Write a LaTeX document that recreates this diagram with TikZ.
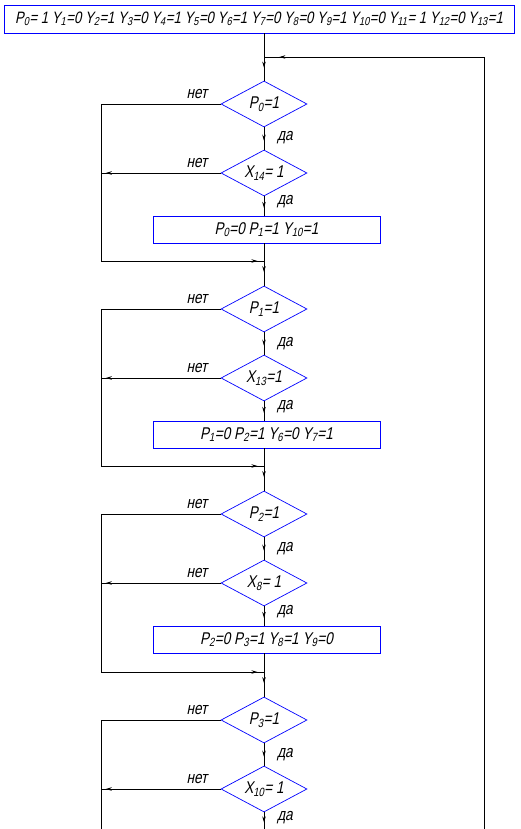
\documentclass[tikz,border=0pt]{standalone}
\usepackage{fontspec}
\newfontfamily\gost[FakeStretch=0.8,FakeSlant=0.2]{Liberation Sans}
\usetikzlibrary{shapes.geometric,arrows.meta,decorations.markings}
\newcommand{\ixs}[1]{\textsubscript{#1}}
\begin{document}
\begin{tikzpicture}[x=1pt,y=-1pt, font=\gost\fontsize{17}{19}\selectfont,
  blk/.style={draw=blue, line width=0.7pt},
  procbox/.style={blk, rectangle, minimum width=227pt, minimum height=27pt, inner sep=0pt},
  cond/.style={blk, diamond, minimum width=86pt, minimum height=46pt, inner sep=0pt, shape aspect=1.87},
  conn/.style={black, line width=0.8pt},
  arr/.style={postaction={decorate}, decoration={markings, mark=at position #1 with {\arrow{Stealth[length=6pt,width=3.5pt]}}}},
  lab/.style={inner sep=1pt}]
\useasboundingbox (0,0) rectangle (520,829);
% nodes
\node[procbox, minimum width=510pt, minimum height=28pt, font=\gost\fontsize{16.5}{19}\selectfont] (top) at (259,19)
  {P\ixs{0}= 1 Y\ixs{1}=0 Y\ixs{2}=1 Y\ixs{3}=0 Y\ixs{4}=1 Y\ixs{5}=0 Y\ixs{6}=1 Y\ixs{7}=0 Y\ixs{8}=0 Y\ixs{9}=1 Y\ixs{10}=0 Y\ixs{11}= 1 Y\ixs{12}=0 Y\ixs{13}=1};
\node[cond] (d1) at (264,104) {P\ixs{0}=1};
\node[cond] (d2) at (264,173) {X\ixs{14}= 1};
\node[procbox] (b1) at (266.5,229.5) {P\ixs{0}=0 P\ixs{1}=1 Y\ixs{10}=1};
\node[cond] (d3) at (264,309) {P\ixs{1}=1};
\node[cond] (d4) at (264,378) {X\ixs{13}=1};
\node[procbox] (b2) at (266.5,434.5) {P\ixs{1}=0 P\ixs{2}=1 Y\ixs{6}=0 Y\ixs{7}=1};
\node[cond] (d5) at (264,514) {P\ixs{2}=1};
\node[cond] (d6) at (264,583) {X\ixs{8}= 1};
\node[procbox] (b3) at (266.5,639.5) {P\ixs{2}=0 P\ixs{3}=1 Y\ixs{8}=1 Y\ixs{9}=0};
\node[cond] (d7) at (264,720) {P\ixs{3}=1};
\node[cond] (d8) at (264,789) {X\ixs{10}= 1};
% labels
\foreach \n/\y in {d1/104,d2/173,d3/309,d4/378,d5/514,d6/583,d7/720,d8/789}{
  \node[lab] (no\n) at (197,\y-10) {нет};
}
\node[lab] (yd1) at (285,138) {да};
\node[lab] (yd2) at (285,202) {да};
\node[lab] (yd3) at (285,344) {да};
\node[lab] (yd4) at (285,407) {да};
\node[lab] (yd5) at (285,549) {да};
\node[lab] (yd6) at (285,612) {да};
\node[lab] (yd7) at (285,755) {да};
\node[lab] (yd8) at (285,818) {да};
% coordinates
\coordinate (j0) at (264,57);
\coordinate (r0) at (484,57);
\coordinate (rb) at (484,829);
\coordinate (j1) at (264,261);
\coordinate (j2) at (264,466);
\coordinate (j3) at (264,672);
\coordinate (l1) at (101,104);
\coordinate (l1b) at (101,173);
\coordinate (l1e) at (101,261);
\coordinate (l2) at (101,309);
\coordinate (l2b) at (101,378);
\coordinate (l2e) at (101,466);
\coordinate (l3) at (101,514);
\coordinate (l3b) at (101,583);
\coordinate (l3e) at (101,672);
\coordinate (l4) at (101,720);
\coordinate (l4b) at (101,789);
\coordinate (l4e) at (101,829);
\coordinate (mb) at (264,829);
% connectors
\draw[conn] (top.south -| j0) -- (j0);
\draw[conn, arr=0.45] (j0) -- (d1.north);
\draw[conn] (rb) -- (r0);
\draw[conn, arr=0.93] (r0) -- (j0);
% block 1
\draw[conn, arr=0.6] (d1.south) -- (d2.north);
\draw[conn, arr=0.6] (d2.south) -- (d2.south |- b1.north);
\draw[conn] (b1.south -| j1) -- (j1);
\draw[conn, arr=0.45] (j1) -- (d3.north);
\draw[conn] (d1.west) -- (l1) -- (l1e);
\draw[conn, arr=0.96] (l1e) -- (j1);
\draw[conn, arr=0.96] (d2.west) -- (l1b);
% block 2
\draw[conn, arr=0.6] (d3.south) -- (d4.north);
\draw[conn, arr=0.6] (d4.south) -- (d4.south |- b2.north);
\draw[conn] (b2.south -| j2) -- (j2);
\draw[conn, arr=0.45] (j2) -- (d5.north);
\draw[conn] (d3.west) -- (l2) -- (l2e);
\draw[conn, arr=0.96] (l2e) -- (j2);
\draw[conn, arr=0.96] (d4.west) -- (l2b);
% block 3
\draw[conn, arr=0.6] (d5.south) -- (d6.north);
\draw[conn, arr=0.6] (d6.south) -- (d6.south |- b3.north);
\draw[conn] (b3.south -| j3) -- (j3);
\draw[conn, arr=0.45] (j3) -- (d7.north);
\draw[conn] (d5.west) -- (l3) -- (l3e);
\draw[conn, arr=0.96] (l3e) -- (j3);
\draw[conn, arr=0.96] (d6.west) -- (l3b);
% block 4
\draw[conn, arr=0.6] (d7.south) -- (d8.north);
\draw[conn, arr=0.6] (d8.south) -- (mb);
\draw[conn] (d7.west) -- (l4) -- (l4e);
\draw[conn, arr=0.96] (d8.west) -- (l4b);
\end{tikzpicture}
\end{document}
